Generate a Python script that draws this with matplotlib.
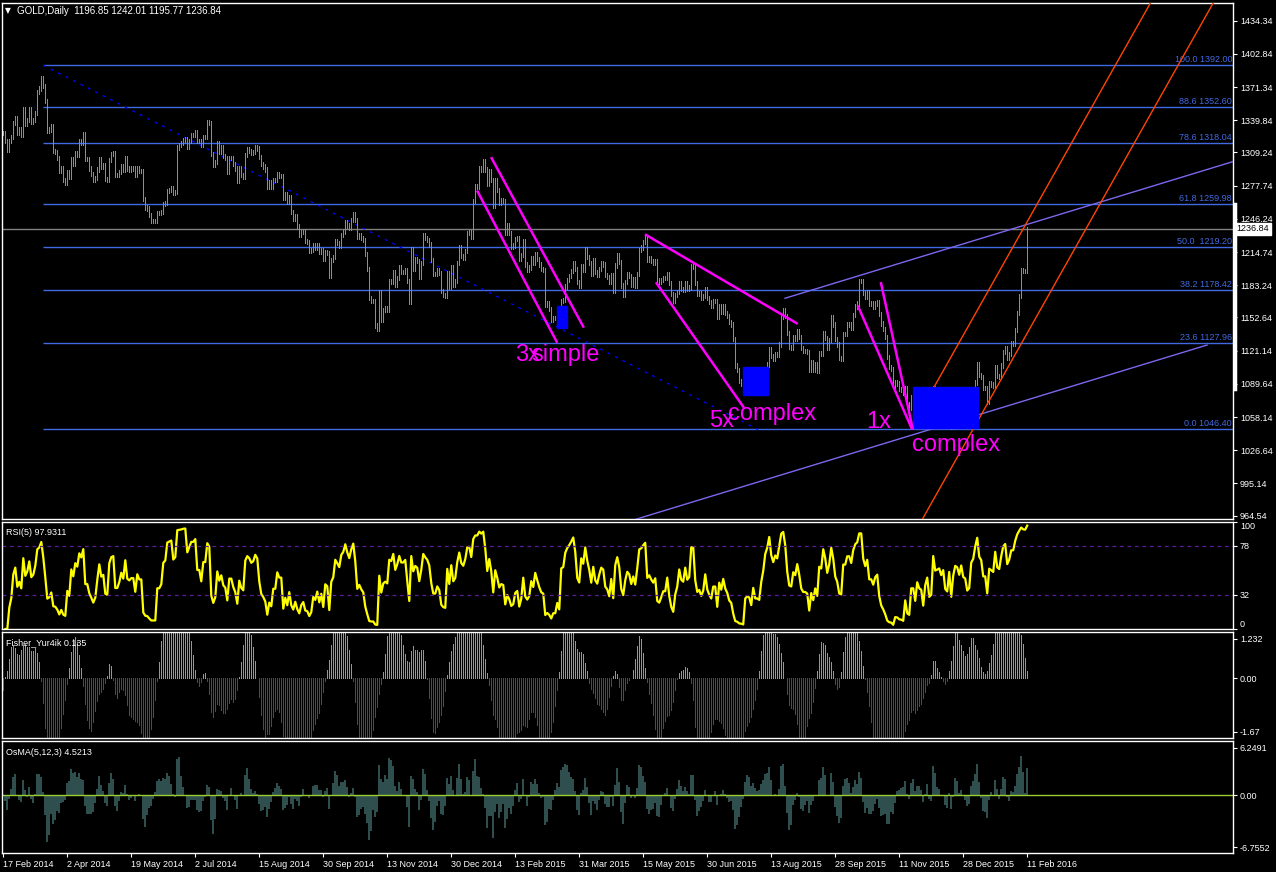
import numpy as np
import pandas as pd
import matplotlib
matplotlib.use('Agg')
import matplotlib.pyplot as plt
import matplotlib.transforms as mtransforms
from matplotlib.patches import Rectangle

plt.rcParams['font.family'] = ['Liberation Sans', 'DejaVu Sans']

# GOLD daily closes, 17 Feb 2014 .. 11 Feb 2016, one line per month
close = [
    1328, 1320, 1312, 1320, 1324, 1337, 1342, 1328, 1331, 1326,
    1350, 1336, 1340, 1350, 1338, 1340, 1347, 1367, 1370, 1380, 1372, 1358, 1330, 1331, 1334, 1311, 1310, 1304, 1292, 1294, 1283,
    1280, 1291, 1286, 1303, 1298, 1309, 1307, 1320, 1318, 1327, 1303, 1303, 1294, 1289, 1283, 1285, 1293, 1303, 1296, 1297, 1284,
    1283, 1302, 1308, 1309, 1288, 1288, 1291, 1296, 1293, 1304, 1294, 1293, 1294, 1294, 1288, 1294, 1292, 1292, 1265, 1257, 1256, 1250,
    1244, 1244, 1244, 1252, 1252, 1253, 1260, 1261, 1273, 1274, 1275, 1271, 1272, 1314, 1316, 1318, 1321, 1322, 1315, 1320, 1326,
    1326, 1329, 1320, 1320, 1316, 1324, 1324, 1338, 1337, 1308, 1297, 1300, 1318, 1310, 1314, 1306, 1304, 1291, 1304, 1304, 1298, 1294, 1282,
    1294, 1288, 1286, 1307, 1312, 1311, 1309, 1310, 1314, 1313, 1305, 1298, 1296, 1293, 1277, 1281, 1277, 1283, 1283, 1289, 1287,
    1287, 1266, 1270, 1262, 1267, 1253, 1246, 1249, 1239, 1231, 1234, 1235, 1225, 1224, 1216, 1217, 1221, 1219, 1221, 1215, 1217, 1208,
    1215, 1214, 1192, 1207, 1210, 1225, 1223, 1221, 1231, 1234, 1243, 1240, 1238, 1245, 1251, 1245, 1229, 1231, 1228, 1226, 1213, 1199, 1171,
    1168, 1168, 1145, 1142, 1177, 1150, 1160, 1162, 1160, 1187, 1186, 1196, 1184, 1190, 1200, 1196, 1196, 1198, 1187, 1167,
    1218, 1199, 1208, 1206, 1191, 1204, 1231, 1228, 1226, 1222, 1207, 1194, 1194, 1198, 1195, 1178, 1174, 1173, 1195, 1182, 1200, 1184,
    1187, 1204, 1219, 1211, 1209, 1216, 1233, 1234, 1229, 1263, 1277, 1277, 1294, 1293, 1301, 1293, 1279, 1292, 1283, 1259, 1283,
    1274, 1261, 1264, 1263, 1233, 1240, 1233, 1220, 1221, 1227, 1228, 1208, 1212, 1225, 1203, 1198, 1200, 1209, 1204, 1213,
    1208, 1203, 1199, 1198, 1165, 1166, 1161, 1150, 1152, 1152, 1155, 1148, 1168, 1169, 1182, 1188, 1192, 1197, 1204, 1199, 1186, 1183,
    1201, 1198, 1218, 1210, 1204, 1194, 1207, 1196, 1193, 1199, 1204, 1203, 1193, 1191, 1186, 1193, 1178, 1202, 1212, 1205, 1183,
    1174, 1186, 1194, 1192, 1184, 1189, 1183, 1194, 1217, 1219, 1224, 1228, 1207, 1209, 1206, 1204, 1206, 1188, 1186, 1188, 1190,
    1190, 1194, 1185, 1175, 1168, 1174, 1177, 1185, 1180, 1179, 1185, 1180, 1181, 1201, 1201, 1185, 1175, 1176, 1171, 1173, 1180, 1171,
    1167, 1164, 1168, 1168, 1153, 1163, 1158, 1163, 1157, 1154, 1148, 1146, 1132, 1107, 1103, 1092, 1090, 1085, 1095, 1096, 1095, 1088, 1094,
    1086, 1086, 1085, 1090, 1094, 1103, 1108, 1123, 1116, 1113, 1118, 1117, 1127, 1153, 1160, 1154, 1138, 1125, 1124, 1134, 1132,
    1140, 1134, 1124, 1121, 1121, 1120, 1103, 1110, 1103, 1108, 1102, 1119, 1118, 1138, 1133, 1124, 1131, 1153, 1146, 1132, 1127, 1114,
    1113, 1137, 1137, 1146, 1146, 1143, 1155, 1163, 1166, 1187, 1187, 1176, 1172, 1177, 1166, 1166, 1163, 1166, 1167, 1156, 1147, 1142,
    1134, 1115, 1106, 1104, 1088, 1091, 1090, 1085, 1084, 1081, 1086, 1070, 1067, 1077, 1077, 1067, 1075, 1071, 1070, 1056, 1065,
    1069, 1053, 1054, 1086, 1074, 1075, 1076, 1072, 1075, 1063, 1061, 1071, 1049, 1065, 1075, 1074, 1069, 1076, 1069, 1068, 1060, 1061,
    1075, 1078, 1091, 1108, 1098, 1096, 1086, 1086, 1073, 1090, 1089, 1088, 1106, 1097, 1096, 1107, 1120, 1124, 1114, 1118,
    1128, 1128, 1141, 1157, 1173, 1198, 1197, 1196.85, 1236.84,
]

date_labels = ['17 Feb 2014', '2 Apr 2014', '19 May 2014', '2 Jul 2014', '15 Aug 2014',
               '30 Sep 2014', '13 Nov 2014', '30 Dec 2014', '13 Feb 2015', '31 Mar 2015',
               '15 May 2015', '30 Jun 2015', '13 Aug 2015', '28 Sep 2015', '11 Nov 2015',
               '28 Dec 2015', '11 Feb 2016']

price_ticks = [1434.34, 1402.84, 1371.34, 1339.84, 1309.24, 1277.74, 1246.24, 1214.74,
               1183.24, 1152.64, 1121.14, 1089.64, 1058.14, 1026.64, 995.14, 964.54]

fib_pct = ['100.0', '88.6', '78.6', '61.8', '50.0 ', '38.2', '23.6', '0.0']
fib_price = [1392.00, 1352.60, 1318.04, 1259.98, 1219.20, 1178.42, 1127.96, 1046.40]

# drawn objects on the chart: (bar index, price) pairs
trend_dotted = [(20, 1392.0), (377.4, 1046.4)]
magenta_lines = [[(244.2, 1303.8), (290.0, 1144.0)], [(237.2, 1272.1), (276.7, 1129.7)],
                 [(321.4, 1231.0), (396.7, 1147.2)], [(326.7, 1185.1), (370.0, 1068.0)],
                 [(427.5, 1162.9), (454.2, 1047.5)], [(438.9, 1185.1), (454.7, 1047.5)]]
blue_boxes = [(276.9, 1142.7, 282.0, 1163.6), (370.0, 1079.1, 382.5, 1106.0),
              (455.0, 1047.5, 487.5, 1087.0)]
purple_channel = [[(390.9, 1170.9), (614.9, 1300.6)], [(300.0, 951.7), (601.9, 1126.5)]]
orange_channel = [[(464.9, 1084.9), (575.0, 1455.8)], [(455.0, 945.8), (606.0, 1454.5)]]
notes = [('3x', 255.9, 1111.0), ('simple', 264.2, 1111.0), ('5x', 352.9, 1049.0),
         ('complex', 362.5, 1055.3), ('1x', 431.7, 1047.5), ('complex', 454.2, 1026.3)]

last_bar = '1196.85 1242.01 1195.77 1236.84'
last_close = 1236.84
rsi_label = 'RSI(5) 97.9311'
fisher_label = 'Fisher_Yur4ik 0.135'
osma_label = 'OsMA(5,12,3) 4.5213'

# bars: from previous close to close
s = pd.Series(close, dtype=float)
idx = np.arange(len(s))
prev = s.shift(1).fillna(s.iloc[0])
bar_hi = np.maximum(prev, s)
bar_lo = np.minimum(prev, s)

# RSI(5), Wilder smoothing
d = s.diff()
up = d.clip(lower=0).ewm(alpha=1 / 5, adjust=False).mean()
dn = (-d.clip(upper=0)).ewm(alpha=1 / 5, adjust=False).mean()
rsi = 100 - 100 / (1 + up / dn.replace(0, np.nan))
rsi[(dn == 0) & (up > 0)] = 100

# Fisher_Yur4ik, period 10 (the MT4 loop runs from the newest bar back)
hi10 = bar_hi.rolling(10, min_periods=1).max().values
lo10 = bar_lo.rolling(10, min_periods=1).min().values
mid = ((bar_hi + bar_lo) / 2).values
fisher = np.zeros(len(s))
val, fish = 0.0, 0.0
for i in range(len(s) - 1, -1, -1):
    rng = hi10[i] - lo10[i] if hi10[i] > lo10[i] else 1.0
    val = 0.66 * ((mid[i] - lo10[i]) / rng - 0.5) + 0.67 * val
    val = min(max(val, -0.999), 0.999)
    fish = 0.5 * np.log((1 + val) / (1 - val)) + 0.5 * fish
    fisher[i] = fish

# OsMA(5,12,3)
macd = s.ewm(span=5, adjust=False).mean() - s.ewm(span=12, adjust=False).mean()
osma = (macd - macd.rolling(3, min_periods=1).mean()).values

# layout in pixels
W, H = 1276, 872
fig = plt.figure(figsize=(W / 100, H / 100), dpi=100, facecolor='black')
XMIN, XMAX = -0.65, 614.9


def panel(top, bottom):
    ax = fig.add_axes([2 / W, 1 - bottom / H, 1231 / W, (bottom - top) / H], facecolor='black')
    for sp in ax.spines.values():
        sp.set_color('white')
        sp.set_linewidth(1)
    ax.yaxis.tick_right()
    ax.tick_params(axis='y', colors='white', labelsize=6.5, length=3, width=0.8, pad=2)
    ax.set_xlim(XMIN, XMAX)
    ax.set_xticks([])
    return ax


GREEN = '#32cd32'
FIB = '#4169e1'

# main price panel
ax = panel(3, 519)
ax.set_ylim(961.4, 1451.1)
ax.set_yticks(price_ticks)
ax.set_yticklabels(['%.2f' % p for p in price_ticks])

tr = mtransforms.blended_transform_factory(ax.transAxes, ax.transData)
for pct, p in zip(fib_pct, fib_price):
    ax.hlines(p, 20, XMAX, color=FIB, lw=1, zorder=1)
    ax.text(0.9992, p + 1.2, '%s %.2f' % (pct, p), transform=tr, ha='right', va='bottom',
            color=FIB, fontsize=6.5)
ax.axhline(last_close, color='#808080', lw=1, zorder=1)
(x0, y0), (x1, y1) = trend_dotted
ax.plot([x0, x1], [y0, y1], color='#0000ff', lw=1, ls=(0, (2, 4)), zorder=1)

ax.vlines(idx, bar_lo - 2, bar_hi + 2, color=GREEN, lw=0.6, antialiased=False, zorder=2)

for a, b in purple_channel:
    ax.plot([a[0], b[0]], [a[1], b[1]], color='#7b68ee', lw=1, zorder=3)
for a, b in orange_channel:
    ax.plot([a[0], b[0]], [a[1], b[1]], color='#ff4500', lw=1, zorder=3)
for bx0, by0, bx1, by1 in blue_boxes:
    ax.add_patch(Rectangle((bx0, by0), bx1 - bx0, by1 - by0, color='#0000ff', zorder=3))
for a, b in magenta_lines:
    ax.plot([a[0], b[0]], [a[1], b[1]], color='#ff00ff', lw=1.8, zorder=4)
for txt, tx, ty in notes:
    ax.text(tx, ty, txt, color='#ff00ff', fontsize=17, ha='left', va='baseline', zorder=5)

ax.plot([1.0015, 1.0015], [1084.5, 1260.2], transform=tr, color='white', lw=2.5, clip_on=False)
ax.text(1.003, last_close, '%.2f' % last_close, transform=tr, ha='left', va='center',
        fontsize=6.5, color='black', bbox=dict(boxstyle='square,pad=0.15', fc='white', ec='white'))
ax.text(0.0025, 0.985, '\u25bc', transform=ax.transAxes, color='white', fontsize=5.5,
        ha='left', va='center', family='DejaVu Sans')
ax.text(0.012, 0.985, 'GOLD,Daily  ' + last_bar, transform=ax.transAxes, color='white',
        fontsize=7, ha='left', va='center')

# RSI panel
ar = panel(522, 629)
ar.set_ylim(0, 100)
ar.plot(idx, rsi, color='#ffff00', lw=1.6)
for lv in (78, 32):
    ar.axhline(lv, color='#5a1e96', lw=0.9, ls=(0, (3, 3)))
ar.set_yticks([100, 78, 32, 0])
ar.set_yticklabels(['100', '78', '32', '0'])
labs = ar.get_yticklabels()
labs[0].set_va('top')
labs[-1].set_va('bottom')
ar.text(0.003, 0.9, rsi_label, transform=ar.transAxes, color='white',
        fontsize=6.5, ha='left', va='center')

# Fisher panel
af = panel(632, 738)
af.set_ylim(-1.866, 1.437)
af.vlines(idx, 0, fisher, colors=np.where(fisher > 0, '#00ff00', '#ff0000'), lw=0.6,
          antialiased=False)
af.set_yticks([1.232, 0.0, -1.67])
af.set_yticklabels(['1.232', '0.00', '-1.67'])
af.text(0.003, 0.9, fisher_label, transform=af.transAxes, color='white',
        fontsize=6.5, ha='left', va='center')

# OsMA panel
ao = panel(741, 853)
ao.set_ylim(-7.54, 7.12)
ao.bar(idx, osma, width=1.0, color='#2f4f4f', lw=0)
ao.axhline(0, color='#9acd32', lw=1)
ao.set_yticks([6.2491, 0.0, -6.7552])
ao.set_yticklabels(['6.2491', '0.00', '-6.7552'])
ao.text(0.003, 0.9, osma_label, transform=ao.transAxes, color='white',
        fontsize=6.5, ha='left', va='center')
ao.set_xticks(np.arange(len(date_labels)) * 32)
ao.set_xticklabels(date_labels)
ao.tick_params(axis='x', colors='white', labelsize=6.5, length=3, width=0.8, pad=2)
for t in ao.get_xticklabels():
    t.set_ha('left')

fig.savefig('out.png', dpi=100, facecolor='black')
